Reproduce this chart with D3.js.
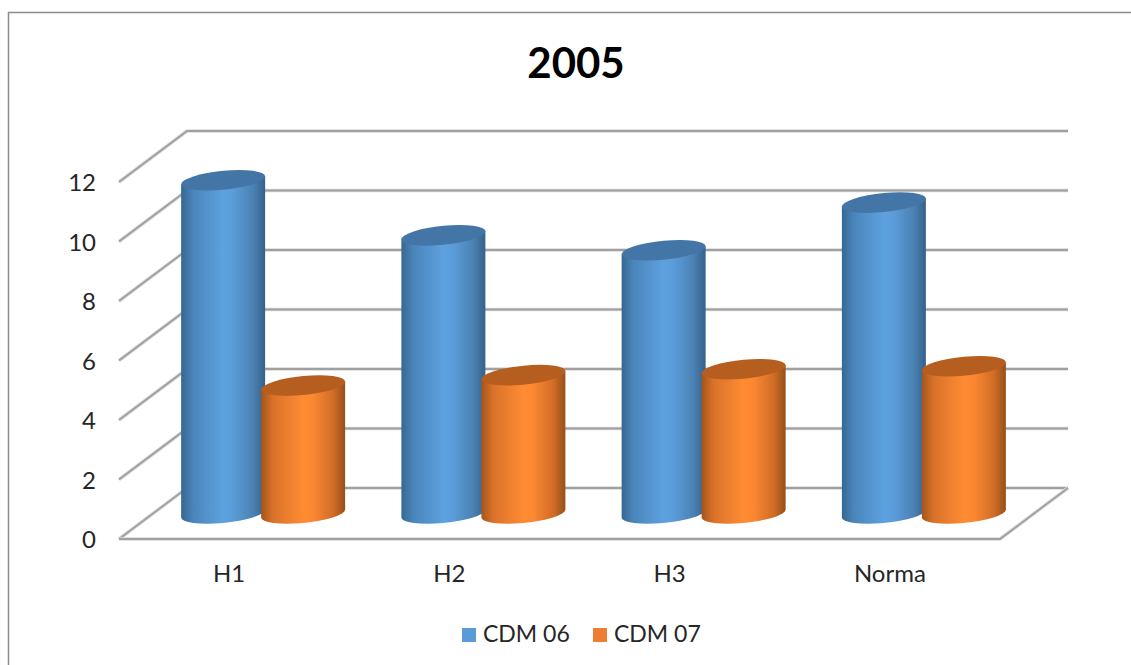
<!DOCTYPE html>
<html>
<head>
<meta charset="utf-8">
<script src="https://cdn.jsdelivr.net/npm/d3@7"></script>
<style>
    html, body { margin: 0; padding: 0; background: #fff; }
    text { font-family: Lato, "Open Sans", sans-serif; fill: #262626; }
</style>
</head>
<body>
<div id="chart"></div>
<script>
var title = "2005";
var categories = ["H1", "H2", "H3", "Norma"];
var seriesNames = ["CDM 06", "CDM 07"];
var cdm06 = [11.2, 9.35, 8.85, 10.45];
var cdm07 = [4.3, 4.65, 4.85, 4.95];
var yTicks = [0, 2, 4, 6, 8, 10, 12];

function init() {

    var w = 1131;
    var h = 665;

    // front plane of the 3d box, the back wall is this shifted by depthX / depthY
    var left = 119;
    var right = 1000;
    var depthX = 68;
    var depthY = -51;

    var svg = d3.select("#chart")
                .append("svg")
                .attr("width", w)
                .attr("height", h)
                .style("display", "block");

    var xScale = d3.scaleBand()
                   .domain(categories)
                   .range([left, right]);

    var yScale = d3.scaleLinear()
                   .domain([0, 12])
                   .range([539, 182]);

    var seriesScale = d3.scaleBand()
                        .domain(seriesNames)
                        .range([-80, 80]);

    var colors = {
        "CDM 06": { top: "#4376a6", swatch: "#5b9bd5",
                    stops: ["#356892", "#4a85ba", "#5da1e0", "#5a9cd9", "#4a81b2", "#35618a"] },
        "CDM 07": { top: "#b65e20", swatch: "#ed7d31",
                    stops: ["#a4551a", "#d9722a", "#ff8b33", "#fb8732", "#d06c26", "#96501a"] }
    };

    var defs = svg.append("defs");

    seriesNames.forEach(function(name, i) {
        var grad = defs.append("linearGradient")
                       .attr("id", "body" + i);
        grad.selectAll("stop")
            .data(colors[name].stops)
            .enter()
            .append("stop")
            .attr("offset", function(d, j) {
                return [0, 0.14, 0.5, 0.62, 0.86, 1][j];
            })
            .attr("stop-color", function(d) { return d; });
    });

    // chart frame, only the top and left edges show
    svg.append("path")
       .attr("d", "M8.5,665V12.5H1131")
       .attr("fill", "none")
       .attr("stroke", "#8c8c8c")
       .attr("stroke-width", 1.5);

    svg.append("text")
       .attr("x", 576)
       .attr("y", 78)
       .attr("text-anchor", "middle")
       .style("font-size", "42px")
       .style("font-weight", "700")
       .style("fill", "#000")
       .text(title);

    // side wall and back wall gridlines, with a pale line under each for the soft edge
    var gridPath = function(d) {
        var y = yScale(d);
        return "M" + left + "," + y + "L" + (left + depthX) + "," + (y + depthY) + "H1068";
    };

    var grid = svg.append("g").attr("fill", "none");

    grid.selectAll("path.halo")
        .data(yTicks)
        .enter()
        .append("path")
        .attr("class", "halo")
        .attr("d", gridPath)
        .attr("stroke", "#d9d9d9")
        .attr("stroke-width", 3.5);

    grid.selectAll("path.line")
        .data(yTicks)
        .enter()
        .append("path")
        .attr("class", "line")
        .attr("d", gridPath)
        .attr("stroke", "#a0a0a0")
        .attr("stroke-width", 1.8);

    // floor outline
    var y0 = yScale(0);
    var floorPath = "M" + left + "," + y0 + "H" + right + "L" + (right + depthX) + "," + (y0 + depthY);
    grid.append("path")
        .attr("d", floorPath)
        .attr("stroke", "#d9d9d9")
        .attr("stroke-width", 3.5);
    grid.append("path")
        .attr("d", floorPath)
        .attr("stroke", "#a0a0a0")
        .attr("stroke-width", 1.8);

    var yAxis = d3.axisLeft(yScale)
                  .tickValues(yTicks)
                  .tickSize(0)
                  .tickPadding(0);

    svg.append("g")
       .attr("transform", "translate(96,1)")
       .call(yAxis)
       .call(function(g) { g.select(".domain").remove(); })
       .selectAll("text")
       .style("font-size", "24px");

    var xAxis = d3.axisBottom(xScale)
                  .tickSize(0)
                  .tickPadding(0);

    svg.append("g")
       .attr("transform", "translate(0,565)")
       .call(xAxis)
       .call(function(g) { g.select(".domain").remove(); })
       .selectAll("text")
       .style("font-size", "24px");

    // cylinders stand halfway into the box; each one is drawn in a sheared group
    // so that both end ellipses lean up to the right
    var rx = 42;
    var ry = 9.5;
    var shear = 4 / rx;
    var baseY = yScale(0) + depthY / 2;

    var bars = [];
    categories.forEach(function(c, i) {
        bars.push({ cat: c, name: seriesNames[0], idx: 0, value: cdm06[i] });
        bars.push({ cat: c, name: seriesNames[1], idx: 1, value: cdm07[i] });
    });

    var cyl = svg.selectAll("g.cyl")
                 .data(bars)
                 .enter()
                 .append("g")
                 .attr("class", "cyl")
                 .attr("transform", function(d) {
                     var cx = xScale(d.cat) + xScale.bandwidth() / 2 + depthX / 2
                            + seriesScale(d.name) + seriesScale.bandwidth() / 2;
                     return "matrix(1," + (-shear) + ",0,1," + cx + ",0)";
                 });

    cyl.append("path")
       .attr("d", function(d) {
           var top = baseY - (yScale(0) - yScale(d.value));
           return "M" + (-rx) + "," + top + "V" + baseY
                + "A" + rx + "," + ry + " 0 0 0 " + rx + "," + baseY
                + "V" + top + "Z";
       })
       .attr("fill", function(d) { return "url(#body" + d.idx + ")"; });

    cyl.append("ellipse")
       .attr("cx", 0)
       .attr("cy", function(d) { return baseY - (yScale(0) - yScale(d.value)); })
       .attr("rx", rx)
       .attr("ry", ry)
       .attr("fill", function(d) { return colors[d.name].top; });

    // legend
    var legendX = [462, 593];
    var legend = svg.selectAll("g.legend")
                    .data(seriesNames)
                    .enter()
                    .append("g")
                    .attr("class", "legend")
                    .attr("transform", function(d, i) {
                        return "translate(" + legendX[i] + ",628)";
                    });

    legend.append("rect")
          .attr("width", 14)
          .attr("height", 14)
          .attr("fill", function(d) { return colors[d].swatch; });

    legend.append("text")
          .attr("x", 21)
          .attr("y", 14)
          .style("font-size", "23px")
          .text(function(d) { return d; });
}

window.onload = init;
</script>
</body>
</html>
